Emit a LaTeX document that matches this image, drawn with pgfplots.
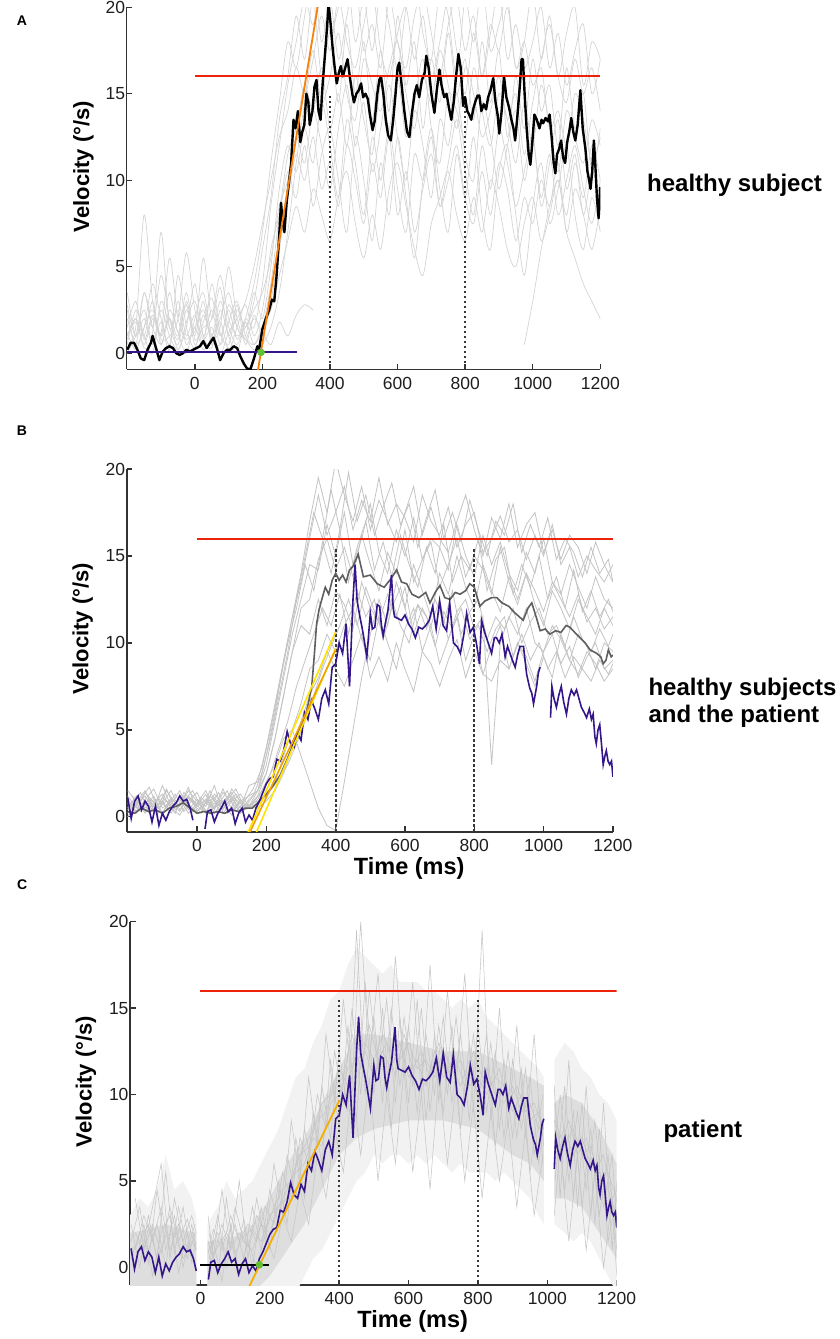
\documentclass[border=0pt]{standalone}
\usepackage{fontspec}
\setmainfont{Liberation Sans}
\usepackage{pgfplots}
\usepackage{pgfplotstable}
\pgfplotsset{compat=1.18}

\definecolor{purp}{RGB}{52,22,138}
\definecolor{redl}{RGB}{235,35,10}
\definecolor{orA}{RGB}{245,128,10}
\definecolor{yelB}{RGB}{255,226,0}
\definecolor{orB}{RGB}{240,160,0}
\definecolor{orC}{RGB}{245,175,0}
\definecolor{grn}{RGB}{100,190,50}
\definecolor{axc}{RGB}{50,50,50}
\definecolor{dotc}{RGB}{55,55,55}
\definecolor{tickc}{RGB}{30,30,30}
\definecolor{grayA}{RGB}{212,212,212}
\definecolor{grayB}{RGB}{195,195,195}
\definecolor{meanB}{RGB}{95,95,95}
\definecolor{grayC}{RGB}{198,198,198}
\definecolor{bandO}{RGB}{242,242,242}
\definecolor{bandI}{RGB}{222,222,222}

% ---------- panel A : trials of a healthy subject ----------
\pgfplotstableread{
t g1 g2 g3 g4 g5 g6 g7 g8
-200 1.5 0.5 2.5 1.0 0.0 0.8 1.2 3.5
-175 3.0 1.5 0.5 2.0 1.0 2.0 0.2 1.0
-150 0.8 8.0 3.5 0.3 2.5 1.0 1.5 2.0
-125 2.2 3.0 1.5 1.2 0.5 3.0 2.5 0.5
-100 1.0 1.0 4.5 7.0 1.8 0.5 0.8 2.5
-75 3.5 2.0 2.0 1.5 0.2 2.5 1.0 1.0
-50 1.2 0.2 0.8 2.5 4.5 1.2 2.0 0.2
-25 2.8 1.8 3.0 0.5 1.5 0.0 5.8 1.5
0 0.5 3.0 1.2 1.5 0.3 2.0 2.5 4.0
25 1.8 1.0 5.5 0.2 2.2 3.5 0.8 1.0
50 3.2 0.3 2.0 1.0 0.8 1.0 1.5 2.5
75 1.0 2.5 3.8 2.0 1.5 0.5 0.0 0.5
100 2.5 1.0 1.0 3.5 5.0 2.8 1.2 1.8
125 0.8 0.0 2.8 1.5 2.0 1.5 2.0 3.0
150 2.0 1.8 0.5 0.8 1.0 0.8 3.0 1.0
175 1.5 0.5 2.2 0.2 3.5 2.0 5.0 0.5
200 4.0 1.5 1.0 0.5 2.0 1.2 7.5 1.5
225 8.5 4.0 3.0 1.5 5.0 0.5 10.0 2.5
250 12.0 8.0 6.0 3.5 9.5 1.8 12.5 4.5
275 15.5 11.5 9.0 7.0 12.0 1.0 14.0 6.5
300 18.0 13.0 11.5 11.0 10.5 2.2 16.5 8.5
325 20.5 15.5 10.0 14.5 13.0 2.8 15.0 7.0
350 19.0 14.0 12.5 17.0 11.0 2.5 17.5 9.5
375 21.5 16.5 9.5 19.5 14.5 nan 14.5 8.0
400 18.5 13.0 11.0 17.5 12.0 nan 16.0 6.5
425 20.0 15.0 8.5 20.5 9.0 nan 18.5 9.0
450 22.0 12.0 12.0 18.0 13.5 nan 15.0 10.5
475 18.0 16.0 10.0 16.5 11.0 nan 13.5 7.5
500 20.5 13.5 7.5 19.0 8.0 nan 17.0 5.5
525 17.5 11.5 11.0 21.0 12.5 nan 15.5 8.0
550 21.0 15.5 9.0 17.5 10.0 nan 14.0 6.0
575 19.0 13.0 12.5 16.0 13.0 nan 16.5 9.5
600 16.5 16.0 8.0 18.5 9.5 nan 18.0 11.0
625 20.0 12.5 10.5 20.0 7.0 nan 15.0 8.5
650 22.0 14.5 7.0 17.0 11.5 nan 13.0 6.0
675 18.5 17.0 9.5 19.5 10.0 nan 16.0 4.5
700 17.0 13.0 11.5 16.0 12.5 nan 14.5 7.5
725 21.0 11.0 8.5 18.0 8.5 nan 17.5 9.0
750 19.5 15.0 10.0 20.5 11.0 nan 15.5 10.5
775 16.0 14.0 12.0 17.5 13.5 nan 13.0 8.0
800 20.5 12.5 9.0 15.0 10.5 nan 16.5 6.5
825 18.0 16.5 7.5 18.5 8.0 nan 15.0 9.0
850 21.5 14.0 10.5 16.0 12.0 nan 12.5 7.0
875 17.5 12.0 8.0 19.0 9.5 nan 14.0 10.0
900 19.0 15.0 11.0 17.5 13.0 nan 16.0 8.5
925 20.5 13.5 9.5 20.0 11.0 nan 13.5 6.0
950 16.5 11.0 6.5 16.5 8.5 nan 15.0 5.0
975 18.0 14.5 9.0 18.0 10.5 0.5 11.5 7.5
1000 21.0 12.0 7.5 15.5 12.5 3.0 14.5 9.0
1025 17.0 15.5 10.0 17.0 9.0 6.0 16.5 6.5
1050 19.5 13.0 8.5 19.0 11.5 8.5 13.0 8.0
1075 16.0 10.5 11.0 16.0 8.0 10.0 14.0 10.0
1100 18.5 14.0 7.0 14.5 10.0 8.0 12.0 7.0
1125 20.0 12.5 9.5 17.0 12.0 11.0 15.0 5.5
1150 15.5 11.0 8.0 15.0 9.5 9.0 13.5 4.0
1175 18.0 13.5 6.0 16.5 7.5 12.0 11.0 3.0
1200 17.0 12.0 8.5 14.0 10.0 10.0 12.5 2.0
}\tabA

\pgfplotstableread{
t g9 g10 g11 g12
-200 2.0 0.5 1.0 2.8
-175 0.5 2.5 1.8 1.0
-150 1.5 1.0 0.5 3.5
-125 4.0 0.0 2.0 1.5
-100 2.0 3.0 1.2 0.5
-75 0.5 1.5 5.5 2.0
-50 3.0 0.5 2.0 1.0
-25 1.0 2.5 0.8 3.5
0 2.2 1.0 1.5 0.8
25 0.5 3.0 2.5 1.5
50 4.0 0.5 1.0 2.0
75 1.2 1.8 3.0 4.5
100 0.5 0.2 1.5 2.0
125 2.5 1.5 0.5 1.0
150 1.5 2.8 2.0 1.5
175 3.0 1.0 4.0 2.5
200 6.0 2.5 7.0 3.5
225 9.0 6.0 11.0 5.5
250 13.5 8.0 14.5 8.5
275 16.0 10.5 18.0 10.0
300 19.5 9.0 16.5 12.5
325 17.0 12.0 19.5 11.0
350 20.5 8.5 22.0 14.0
375 16.0 11.5 18.0 12.0
400 18.5 13.0 20.5 9.5
425 14.5 10.0 17.0 13.0
450 19.0 7.0 19.5 15.5
475 15.0 12.5 21.5 12.0
500 18.0 10.0 17.5 14.5
525 13.5 6.5 19.0 10.5
550 17.5 11.0 16.5 13.0
575 14.0 8.0 20.5 15.5
600 19.5 12.5 18.0 12.5
625 15.5 9.0 16.5 10.0
650 18.0 5.5 19.5 14.0
675 13.0 10.0 21.0 12.0
700 17.0 13.0 18.5 9.0
725 14.5 9.5 16.0 13.5
750 18.5 7.0 19.0 12.0
775 15.0 11.5 20.5 15.0
800 17.0 9.0 17.5 11.5
825 13.5 12.5 19.5 10.0
850 18.0 8.0 16.0 14.5
875 14.5 6.0 18.5 12.5
900 17.5 10.5 21.0 9.5
925 12.5 12.0 17.0 12.0
950 16.0 8.0 19.0 14.0
975 13.0 4.5 16.5 10.0
1000 17.0 8.5 18.0 12.5
1025 14.0 11.0 20.0 8.5
1050 15.5 7.5 16.5 11.0
1075 12.0 9.5 18.5 13.5
1100 16.5 12.0 15.5 9.5
1125 13.0 8.0 17.5 11.5
1150 15.0 6.0 19.0 8.0
1175 10.5 9.0 15.0 10.5
1200 13.0 7.0 17.0 9.0
}\tabAx

\pgfplotstableread{
t v
-200 0.2
-190 0.6
-180 0.6
-170 0.2
-160 -0.3
-150 -0.4
-140 0.2
-130 0.6
-125 1.0
-115 0.3
-105 -0.4
-95 0.1
-85 0.3
-75 0.4
-65 0.3
-55 0.0
-45 -0.1
-35 0.0
-25 0.2
-15 0.1
-5 0.2
5 0.3
15 0.4
25 0.7
35 0.3
45 0.6
55 0.9
65 0.3
75 -0.4
85 0.0
95 0.2
105 0.2
115 0.4
125 0.3
135 -0.2
145 -0.6
155 -0.9
165 -0.9
175 -0.3
185 0.4
190 0.2
200 1.4
210 2.0
220 2.5
228 3.1
235 3.0
242 4.5
250 6.9
255 8.7
260 7.6
265 7.0
272 8.8
278 9.8
285 11.0
292 13.5
298 13.0
305 14.0
312 12.2
318 12.8
324 13.2
330 15.0
336 14.5
340 13.2
348 14.0
354 15.4
360 15.8
366 14.0
372 13.5
378 15.5
384 17.0
390 18.5
396 20.2
402 19.0
408 17.6
414 16.5
420 15.6
426 16.2
432 16.6
438 16.0
445 16.5
452 17.0
460 15.8
466 15.0
471 14.5
478 15.0
485 15.2
492 15.6
498 14.8
505 15.0
512 14.7
518 13.8
526 12.9
532 13.4
540 15.0
546 15.8
551 16.0
558 15.0
565 13.5
572 12.6
580 12.3
587 13.5
594 15.0
600 16.5
605 16.8
612 15.5
620 14.0
628 12.8
635 12.5
642 13.8
650 15.0
657 15.5
664 14.8
672 15.8
680 16.2
685 17.2
692 16.5
700 15.0
709 13.9
716 15.2
724 16.4
730 15.5
738 14.8
745 15.0
752 14.2
759 13.5
766 14.5
773 16.0
780 17.3
787 16.5
794 14.3
800 14.8
806 14.0
812 13.8
818 13.5
825 14.2
831 14.6
837 14.9
842 14.9
848 14.0
855 14.4
862 14.1
868 14.8
875 15.2
883 15.9
890 14.5
896 13.8
901 12.7
908 14.0
915 16.0
922 14.8
930 14.2
937 13.5
943 13.0
948 12.3
955 13.8
962 15.5
967 17.0
971 17.0
976 15.0
982 13.0
988 11.5
993 10.9
998 12.0
1005 13.8
1012 13.5
1020 13.0
1026 13.5
1031 13.3
1038 13.6
1045 13.4
1050 13.8
1056 12.5
1062 11.0
1067 10.4
1072 11.5
1078 11.8
1084 12.3
1090 11.3
1096 11.0
1102 12.2
1108 12.8
1114 13.6
1120 12.8
1126 12.3
1133 13.2
1141 15.2
1148 13.0
1156 11.8
1162 10.5
1167 10.0
1171 9.5
1176 10.5
1181 12.3
1185 11.0
1190 9.0
1195 7.8
1200 9.6
}\blackA

% ---------- panel B : healthy subjects (means) ----------
\pgfplotstableread{
t b1 b2 b3 b4 b5 b6 b7 b8
-200 0.5 0.2 1.0 0.8 0.0 1.2 0.4 1.5
-175 1.2 0.8 0.3 0.2 0.7 0.5 1.0 0.9
-150 0.3 1.5 1.4 1.0 1.2 0.9 0.2 0.5
-125 1.0 0.4 0.8 1.6 0.4 0.3 0.8 1.2
-100 0.8 0.9 0.2 0.5 1.8 1.1 1.3 0.2
-75 1.5 0.2 1.1 0.9 0.6 0.7 0.5 1.0
-50 0.4 1.2 0.6 0.3 1.0 1.5 0.1 0.6
-25 1.1 0.7 1.5 1.2 0.2 0.4 0.9 1.7
0 0.6 0.3 0.9 0.6 0.8 1.0 1.4 0.3
25 1.3 1.0 0.2 1.0 1.5 0.6 0.3 0.8
50 0.2 0.5 1.3 0.4 0.5 1.8 0.8 1.1
75 0.9 1.6 0.7 1.4 0.9 0.2 0.5 0.4
100 1.4 0.4 0.1 0.8 1.2 0.9 1.1 1.6
125 0.5 0.8 1.0 0.3 0.3 1.3 0.2 0.9
150 1.8 0.6 0.5 0.5 1.0 0.6 0.7 1.2
175 2.0 1.5 0.8 1.0 1.5 1.2 0.5 1.5
200 4.0 2.5 1.2 2.0 3.5 2.5 0.9 3.0
225 6.5 4.5 2.0 3.0 6.0 4.5 1.5 5.5
250 9.0 7.0 3.5 4.5 9.0 7.0 2.5 8.0
275 11.5 9.5 5.0 5.0 11.5 9.5 4.0 10.5
300 13.5 12.0 6.5 3.5 14.0 11.0 5.5 12.5
325 16.0 12.5 8.5 2.0 17.0 10.5 7.0 14.5
350 18.5 14.8 9.0 0.5 19.5 12.5 8.0 14.2
375 16.2 16.0 10.5 -0.5 17.5 11.0 9.5 16.8
400 17.5 14.2 9.5 -0.8 20.5 13.0 8.5 15.0
425 19.0 15.5 11.0 2.0 18.5 12.2 7.5 17.5
450 16.5 13.8 12.0 5.0 17.0 10.8 9.0 14.5
475 18.2 16.2 10.2 8.0 19.0 13.5 10.5 16.0
500 17.0 14.5 9.0 10.5 16.5 12.0 8.0 18.0
525 19.5 13.0 11.5 12.5 18.2 11.2 9.2 15.2
550 16.8 15.2 10.0 11.0 17.0 12.8 7.8 14.0
575 18.0 14.0 8.5 13.5 15.8 11.5 10.0 16.5
600 17.2 16.5 10.8 12.0 17.5 13.2 8.5 15.0
625 15.8 13.5 12.0 14.5 19.0 10.5 7.2 17.2
650 18.5 14.8 9.5 13.0 16.2 12.0 9.5 14.8
675 17.0 15.8 11.0 11.5 17.8 11.0 8.8 16.0
700 16.2 13.2 8.8 14.0 16.0 12.5 7.5 15.5
725 17.8 14.5 10.2 12.8 15.2 10.2 9.0 14.2
750 15.5 16.0 11.5 15.0 17.0 11.8 10.2 16.8
775 16.8 13.8 9.0 13.2 18.5 12.5 8.0 15.0
800 17.5 15.0 10.5 12.0 16.5 10.8 9.5 13.8
825 15.2 14.2 8.2 14.5 15.0 11.5 8.2 16.2
850 16.0 12.8 9.8 13.0 17.2 3.0 7.8 14.5
875 17.3 15.5 11.0 11.8 16.0 10.0 9.0 15.8
900 15.8 13.5 8.5 13.8 18.0 11.5 8.5 14.0
925 16.5 12.2 10.0 12.5 15.5 10.5 10.0 13.0
950 14.8 14.0 9.2 14.0 16.8 12.0 8.8 15.2
975 16.2 13.0 7.8 12.2 17.5 10.0 7.5 14.0
1000 15.0 11.8 9.5 11.0 15.2 9.5 9.2 16.0
1025 16.8 13.5 10.5 13.0 16.5 11.0 8.0 13.5
1050 14.5 12.5 8.8 12.0 14.8 10.2 10.5 12.8
1075 15.5 11.5 9.8 10.8 16.2 9.0 9.0 14.5
1100 13.8 12.8 8.0 12.5 15.5 10.5 8.2 13.2
1125 15.0 11.2 9.2 11.5 14.0 9.8 9.5 12.0
1150 14.2 12.0 10.0 10.5 15.8 8.5 8.8 13.8
1175 13.5 10.8 8.5 12.0 14.5 10.0 7.8 12.5
1200 14.5 11.5 9.0 11.0 13.5 9.5 8.5 12.0
}\tabB

\pgfplotstableread{
t b9 b10 b11 b12
-188 0.6 1.2 0.3 0.9
-163 1.4 0.4 1.0 0.3
-138 0.2 1.0 1.7 1.1
-113 1.1 0.2 0.5 0.6
-88 0.5 1.5 0.9 1.6
-63 1.3 0.8 0.2 0.4
-38 0.3 1.2 1.4 0.9
-13 1.0 0.3 0.8 1.5
12 0.4 1.1 0.2 0.6
37 1.2 0.6 1.5 0.2
62 0.7 1.4 0.4 1.0
87 1.5 0.2 1.0 0.7
112 0.3 1.0 1.6 1.3
137 0.9 0.6 0.5 0.4
162 1.6 0.8 1.2 0.8
187 2.8 1.5 2.5 1.0
212 5.0 2.5 4.5 1.5
237 7.5 4.0 7.0 2.2
262 10.0 5.5 9.5 3.0
287 12.0 7.5 12.5 4.2
312 14.5 9.0 15.0 5.5
337 13.0 10.5 17.5 7.0
362 15.8 12.0 16.0 8.5
387 14.0 11.0 18.8 9.8
412 16.5 12.8 16.5 11.0
437 13.5 10.5 19.8 12.5
462 15.5 13.0 17.0 11.0
487 17.0 11.5 18.5 13.2
512 14.2 12.5 16.2 11.8
537 15.8 10.2 17.8 10.5
562 13.8 12.0 19.2 12.5
587 16.2 13.2 16.8 11.0
612 14.5 11.0 18.0 10.0
637 13.2 12.2 15.5 12.2
662 15.5 10.8 17.2 11.5
687 14.0 12.5 18.8 9.8
712 16.8 11.2 16.0 11.8
737 13.5 13.0 17.5 10.8
762 15.0 10.5 15.8 12.0
787 14.2 11.8 18.2 10.2
812 16.0 12.5 16.5 11.0
837 13.0 10.2 15.0 9.5
862 14.8 11.5 17.0 10.8
887 15.5 10.8 16.2 11.5
912 12.8 12.0 18.0 9.2
937 14.5 10.0 15.2 10.5
962 13.2 11.2 16.8 9.0
987 15.0 12.0 15.5 10.0
1012 12.5 10.5 17.2 8.5
1037 13.8 11.0 14.8 9.5
1062 12.0 9.8 16.0 8.0
1087 14.2 11.5 15.2 9.2
1112 11.8 10.2 13.8 8.5
1137 13.0 9.5 15.5 7.8
1162 11.5 10.8 14.0 9.0
1187 12.5 9.8 14.8 8.2
1200 11.8 10.5 13.5 8.8
}\tabBx

\pgfplotstableread{
t v
-200 0.3
-180 0.2
-160 0.5
-140 0.3
-120 0.4
-100 0.2
-80 0.5
-60 0.6
-40 0.8
-20 0.5
0 0.2
20 0.3
40 0.2
60 0.3
80 0.2
100 0.4
120 0.3
140 0.5
160 0.5
180 0.9
200 1.3
220 1.8
240 2.4
260 3.3
280 4.3
300 5.2
315 6.0
322 6.6
331 7.5
338 9.2
345 11.1
352 11.9
360 12.5
370 13.2
380 12.8
390 13.6
400 14.0
410 13.6
420 13.9
430 13.5
440 14.2
450 14.4
465 15.1
480 13.8
500 13.9
520 13.4
540 13.2
560 13.7
576 14.2
590 13.5
605 13.4
620 12.8
640 12.6
660 12.9
672 12.3
690 13.0
701 13.3
715 12.6
730 12.5
745 12.9
759 12.8
775 13.0
787 13.4
800 13.2
816 12.1
830 12.4
850 12.6
865 12.6
880 12.3
900 12.1
913 11.8
930 11.5
941 11.3
955 12.0
966 12.3
980 11.4
990 10.7
1005 10.8
1018 10.5
1035 10.7
1050 10.6
1065 11.0
1076 10.9
1090 10.6
1105 10.3
1120 10.0
1134 9.6
1153 9.4
1165 9.2
1172 8.8
1180 9.0
1187 9.6
1195 9.2
1200 9.3
}\meanB

% ---------- patient mean (panels B and C) ----------
\pgfplotstableread{
t v
-200 1.1
-190 -0.1
-180 0.9
-170 1.2
-160 0.4
-150 0.9
-140 0.6
-130 -0.3
-120 0.6
-110 -0.5
-100 0.2
-90 -0.2
-80 0.3
-70 0.6
-60 0.8
-50 1.2
-40 0.9
-30 1.0
-20 0.5
-12 -0.2
0 nan
23 -0.7
30 0.3
40 0.4
50 -0.3
60 0.2
70 0.5
80 0.9
90 0.3
100 0.5
110 -0.4
120 0.2
130 0.5
140 -0.3
150 0.1
160 -0.2
170 0.5
180 0.9
190 1.4
200 1.9
210 2.2
220 2.3
230 3.3
240 3.2
250 3.8
260 4.9
270 4.2
280 4.0
290 4.8
300 4.4
310 6.0
320 5.6
330 6.7
340 6.2
350 5.6
360 6.8
370 7.3
380 6.5
390 8.6
400 8.8
410 10.0
420 9.4
430 11.1
440 7.5
450 12.5
456 14.5
462 12.4
470 11.5
476 10.9
482 10.2
490 9.2
500 11.7
506 10.8
513 10.9
520 12.2
527 12.1
532 11.0
537 10.4
544 11.2
551 11.9
561 13.9
566 12.0
570 11.5
580 11.4
590 11.3
600 11.6
610 11.1
620 10.8
630 10.3
640 10.9
650 10.8
660 11.0
670 11.3
680 12.1
690 10.8
700 12.4
710 11.0
720 10.7
729 12.3
740 10.0
750 9.8
760 9.4
770 10.5
778 11.7
788 10.6
797 10.9
806 10.0
815 8.8
821 11.3
830 10.6
840 10.0
850 9.4
858 10.3
864 10.3
872 10.0
880 10.5
889 9.2
896 9.8
903 9.4
910 9.0
918 8.6
925 9.3
932 9.8
942 9.8
951 8.2
960 7.4
966 7.1
971 6.5
980 7.5
985 8.3
990 8.6
1000 nan
1020 5.7
1024 7.5
1030 6.8
1037 6.3
1044 7.0
1051 7.5
1058 6.6
1066 5.9
1073 6.8
1080 7.3
1088 7.0
1095 7.3
1102 6.8
1109 6.3
1117 6.0
1124 5.7
1132 6.2
1138 5.6
1143 5.9
1148 4.6
1152 4.2
1157 5.0
1162 5.3
1167 4.2
1172 3.0
1177 3.5
1181 3.8
1186 3.2
1191 3.0
1196 3.2
1200 2.3
}\patient

% ---------- panel C : patient trials ----------
\pgfplotstableread{
t c1 c2 c3 c4
-200 1.5 2.5 0.5 1.0
-175 3.5 0.0 2.0 1.5
-150 0.2 3.0 1.0 2.5
-125 4.5 0.5 2.5 0.5
-100 1.0 5.5 0.0 1.8
-75 3.0 0.8 4.0 2.0
-50 0.0 3.5 1.5 0.5
-25 2.5 0.3 3.0 1.5
-12 1.0 1.5 2.0 1.0
0 nan nan nan nan
25 0.5 2.0 1.0 0.2
50 3.0 -0.5 2.0 1.2
75 0.0 4.0 0.8 2.0
100 2.5 0.3 3.5 0.8
125 0.5 2.8 1.5 1.8
150 3.5 0.0 1.0 2.2
175 1.0 3.5 2.5 1.5
200 4.5 1.0 2.0 3.0
225 2.5 5.0 3.5 3.5
250 6.5 2.5 4.5 4.0
275 4.0 7.5 5.5 6.0
300 8.0 4.0 6.0 7.0
325 5.5 9.0 7.5 8.0
350 10.5 6.0 7.0 9.5
375 7.5 12.0 9.5 10.0
400 12.5 8.0 10.0 11.5
425 9.0 14.0 11.5 10.5
450 19.5 8.5 12.0 12.5
475 10.0 16.5 12.5 13.0
500 14.5 10.0 11.0 12.0
525 9.5 15.0 12.5 13.5
550 15.0 8.0 11.5 12.5
575 10.5 14.5 13.0 12.0
600 14.0 9.5 11.0 13.0
625 9.0 15.5 12.0 11.5
650 13.5 8.5 10.5 12.0
675 10.0 13.5 12.5 11.0
700 14.5 9.0 11.0 12.5
725 9.5 14.0 11.5 11.5
750 13.5 8.0 10.5 12.0
775 8.5 13.0 12.0 10.5
800 14.0 9.5 10.0 11.0
825 9.0 13.5 11.5 10.0
850 12.5 7.0 10.0 11.0
875 7.5 12.0 9.5 10.5
900 12.0 7.5 10.5 9.0
925 8.0 11.5 9.0 10.0
950 11.0 5.5 9.5 8.5
975 6.0 9.5 8.0 9.0
990 8.5 7.0 8.5 8.0
1000 nan nan nan nan
1022 9.5 5.0 7.0 8.5
1050 4.5 10.5 8.0 7.0
1075 9.0 4.0 6.5 8.0
1100 3.5 9.5 7.5 6.5
1125 8.0 3.0 6.0 7.0
1150 3.0 8.0 5.5 5.0
1175 6.5 1.5 4.5 5.5
1200 1.0 4.0 3.0 4.0
}\tabC

\pgfplotstableread{
t c5 c6 c7 c8
-188 4.0 0.0 2.0 1.0
-163 1.0 2.5 1.0 3.0
-138 3.5 -0.5 2.5 1.5
-113 6.0 2.0 0.8 3.5
-88 0.5 3.0 3.5 1.0
-63 3.5 -0.3 1.5 2.5
-38 1.0 2.0 2.8 0.5
-15 2.5 0.0 1.2 2.0
0 nan nan nan nan
22 3.0 -0.5 1.5 0.8
37 0.5 1.5 0.5 2.2
62 4.5 -0.8 2.5 1.0
87 1.0 2.5 1.0 3.0
112 5.0 -0.5 2.0 1.5
137 0.5 1.5 1.2 2.5
162 4.0 0.0 3.0 1.5
187 1.5 2.0 2.0 3.5
212 6.0 0.5 3.5 2.5
237 3.0 3.0 4.5 5.5
262 8.5 1.5 5.0 4.0
287 5.0 4.5 6.5 7.5
312 11.0 2.5 7.0 6.0
337 7.0 6.5 8.5 10.0
362 13.5 4.0 9.0 8.0
387 9.5 8.0 10.5 12.5
412 15.5 5.5 11.0 9.5
437 10.5 10.5 13.5 15.0
462 20.0 6.5 11.5 10.0
487 12.0 11.0 14.0 16.0
512 17.0 5.0 12.0 11.5
537 10.0 10.0 13.0 15.5
562 18.0 6.0 11.0 9.5
587 11.0 11.5 13.5 14.5
612 16.5 5.5 11.5 10.5
637 10.0 10.0 12.5 15.0
662 17.5 4.5 11.0 9.0
687 9.5 11.0 13.0 14.0
712 16.0 6.0 11.5 10.0
737 10.5 10.5 12.0 14.5
762 17.0 5.0 10.5 9.5
787 9.0 9.5 12.5 13.5
812 19.5 4.0 11.0 9.0
837 8.5 9.0 10.5 13.0
862 15.0 5.0 11.5 8.0
887 8.0 8.5 9.5 12.5
912 14.0 3.5 10.5 7.5
937 7.5 8.0 9.0 11.5
962 13.5 3.0 9.5 6.5
987 6.0 6.5 8.0 10.0
1000 nan nan nan nan
1020 10.5 3.0 8.5 6.5
1037 4.0 7.0 7.0 10.0
1062 12.0 1.5 8.5 5.0
1087 3.5 6.5 6.5 9.0
1112 10.5 1.0 7.5 4.5
1137 2.5 5.5 5.5 8.5
1162 9.5 0.0 6.5 3.5
1187 1.0 4.0 4.0 6.5
1200 5.0 -0.5 4.5 2.5
}\tabCx

\pgfplotstableread{
t v
-203 -1.5
-203 3.0
-175 4.0
-150 3.5
-125 4.5
-100 6.5
-75 4.5
-50 5.0
-25 4.0
-12 3.0
-12 -1.5
}\outerCa
\pgfplotstableread{
t v
20 -1.5
20 2.5
50 3.5
75 5.0
100 4.0
125 4.5
150 5.0
175 6.0
200 7.0
225 8.0
250 9.5
275 11.0
300 11.5
325 13.0
350 14.0
375 15.5
400 16.0
425 17.5
450 18.5
475 18.0
500 17.5
525 17.0
550 17.5
575 16.5
600 16.5
625 16.5
650 16.0
675 16.0
700 15.5
725 15.0
750 15.5
775 15.0
800 15.5
825 14.5
850 14.0
875 13.5
900 13.0
925 12.5
950 12.0
975 11.5
990 11.0
990 2.5
975 3.0
950 4.0
925 4.5
900 5.0
875 5.5
850 5.0
825 5.5
800 5.5
775 5.5
750 6.0
725 5.5
700 6.0
675 6.5
650 6.0
625 6.5
600 6.0
575 6.5
550 6.5
525 6.0
500 6.5
475 5.5
450 5.0
425 4.0
400 3.0
375 2.0
350 1.0
325 0.5
300 -0.5
275 -1.5
}\outerCb
\pgfplotstableread{
t v
1020 2.5
1020 12.0
1050 13.0
1075 12.5
1100 11.5
1125 11.0
1150 10.0
1175 9.5
1200 8.5
1200 -1.5
1175 -0.5
1150 0.5
1125 1.5
1100 2.0
1075 1.5
1050 2.0
}\outerCc
\pgfplotstableread{
t v
-203 -1.5
-203 2.0
-150 2.2
-100 2.5
-50 2.2
-12 2.0
-12 -1.5
}\innerCa
\pgfplotstableread{
t v
20 -1.5
20 1.5
100 1.8
150 2.5
200 4.0
250 6.0
300 7.5
350 9.5
400 11.5
450 13.5
500 13.5
600 13.0
700 12.5
800 12.5
900 11.5
950 11.0
990 10.5
990 5.0
950 6.0
900 6.5
800 8.0
700 8.5
600 8.5
500 8.0
450 7.5
400 6.5
350 4.5
300 2.5
250 1.0
200 -0.5
150 -1.5
}\innerCb
\pgfplotstableread{
t v
1020 4.0
1020 9.5
1050 10.0
1100 9.5
1150 8.0
1200 6.0
1200 0.5
1150 2.0
1100 3.5
1050 4.0
}\innerCc

\pgfplotsset{
  panel/.style={
    scale only axis,
    axis x line=bottom, axis y line=left,
    axis line style={-, line width=1.6pt, draw=axc},
    tick style={line width=1.4pt, draw=axc},
    tick align=inside,
    major tick length=5.5pt,
    xtick={0,200,400,600,800,1000,1200},
    ytick={0,5,10,15,20},
    ticklabel style={font=\fontsize{17.5}{17.5}\selectfont, text=tickc},
    xticklabel style={yshift=-4pt},
    yticklabel style={xshift=2pt},
    /pgf/number format/assume math mode=true,
    /pgf/number format/1000 sep={},
    unbounded coords=jump,
    ylabel={Velocity (°/s)},
    ylabel style={font=\fontsize{22}{22}\selectfont\bfseries, at={(axis description cs:-0.062,0.56)}, anchor=south},
    xlabel style={font=\fontsize{23.5}{23.5}\selectfont\bfseries, at={(axis description cs:0.581,0)}, anchor=north, yshift=-22pt},
  },
  dotl/.style={color=dotc, line width=2.2pt, dash pattern=on 2.2pt off 2.8pt},
  gA/.style={color=grayA, line width=0.7pt, smooth},
  gB/.style={color=grayB, line width=0.8pt},
  gC/.style={color=grayC, line width=0.55pt},
}

\begin{document}
\begin{tikzpicture}
\path[use as bounding box] (0pt,0pt) rectangle (839pt,-1339pt);

\node[anchor=base west, inner sep=0pt, font=\fontsize{14}{14}\selectfont\bfseries] at (16.7pt,-25pt) {A};
\node[anchor=base west, inner sep=0pt, font=\fontsize{14}{14}\selectfont\bfseries] at (16.7pt,-435pt) {B};
\node[anchor=base west, inner sep=0pt, font=\fontsize{14}{14}\selectfont\bfseries] at (17pt,-889.5pt) {C};

\node[anchor=base west, inner sep=0pt, font=\fontsize{24}{24}\selectfont\bfseries] at (647pt,-191.7pt) {healthy subject};
\node[anchor=base west, inner sep=0pt, font=\fontsize{24}{24}\selectfont\bfseries] at (648.3pt,-695pt) {healthy subjects};
\node[anchor=base west, inner sep=0pt, font=\fontsize{24}{24}\selectfont\bfseries] at (648.3pt,-722.3pt) {and the patient};
\node[anchor=base west, inner sep=0pt, font=\fontsize{24}{24}\selectfont\bfseries] at (663.3pt,-1137.3pt) {patient};

% ================= A =================
\begin{axis}[panel, at={(126.6pt,-369.3pt)}, anchor=south west,
  width=473.7pt, height=362pt, xmin=-202, xmax=1200, ymin=-0.93, ymax=20]
\addplot[gA] table[x=t,y=g1] {\tabA};
\addplot[gA] table[x=t,y=g2] {\tabA};
\addplot[gA] table[x=t,y=g3] {\tabA};
\addplot[gA] table[x=t,y=g4] {\tabA};
\addplot[gA] table[x=t,y=g5] {\tabA};
\addplot[gA] table[x=t,y=g6] {\tabA};
\addplot[gA] table[x=t,y=g7] {\tabA};
\addplot[gA] table[x=t,y=g8] {\tabA};
\addplot[gA] table[x=t,y=g9] {\tabAx};
\addplot[gA] table[x=t,y=g10] {\tabAx};
\addplot[gA] table[x=t,y=g11] {\tabAx};
\addplot[gA] table[x=t,y=g12] {\tabAx};
\addplot[dotl] coordinates {(400,-2) (400,15)};
\addplot[dotl] coordinates {(800,-2) (800,15)};
\addplot[black, line width=2.4pt, line join=round] table[x=t,y=v] {\blackA};
\addplot[purp, line width=2pt] coordinates {(-205,0.05) (301,0.05)};
\addplot[redl, line width=2pt] coordinates {(0,16) (1200,16)};
\addplot[orA, line width=1.8pt] coordinates {(180,-1.79) (370,20.8)};
\addplot[only marks, mark=*, mark size=3.5pt, color=grn] coordinates {(196,0.05)};
\end{axis}

% ================= B =================
\begin{axis}[panel, at={(126.7pt,-831.7pt)}, anchor=south west,
  width=486.2pt, height=362.7pt, xmin=-203, xmax=1200, ymin=-0.86, ymax=20,
  xlabel={Time (ms)}]
\addplot[gB] table[x=t,y=b1] {\tabB};
\addplot[gB] table[x=t,y=b2] {\tabB};
\addplot[gB] table[x=t,y=b3] {\tabB};
\addplot[gB] table[x=t,y=b4] {\tabB};
\addplot[gB] table[x=t,y=b5] {\tabB};
\addplot[gB] table[x=t,y=b6] {\tabB};
\addplot[gB] table[x=t,y=b7] {\tabB};
\addplot[gB] table[x=t,y=b8] {\tabB};
\addplot[gB] table[x=t,y=b9] {\tabBx};
\addplot[gB] table[x=t,y=b10] {\tabBx};
\addplot[gB] table[x=t,y=b11] {\tabBx};
\addplot[gB] table[x=t,y=b12] {\tabBx};
\addplot[dotl] coordinates {(400,-2) (400,15.5)};
\addplot[dotl] coordinates {(800,-2) (800,15.5)};
\addplot[meanB, line width=1.6pt] table[x=t,y=v] {\meanB};
\addplot[purp, line width=1.6pt] table[x=t,y=v] {\patient};
\addplot[redl, line width=2pt] coordinates {(0,16) (1200,16)};
\addplot[yelB, line width=1.6pt] coordinates {(145,-1.0) (400,10.64)};
\addplot[yelB, line width=1.6pt] coordinates {(169,-1.0) (400,9.69)};
\addplot[orB, line width=1.6pt] coordinates {(150,-1.0) (400,9.6)};
\end{axis}

% ================= C =================
\begin{axis}[panel, at={(130pt,-1285pt)}, anchor=south west,
  width=486.7pt, height=363.3pt, xmin=-203, xmax=1200, ymin=-1.02, ymax=20,
  xlabel={Time (ms)}]
\addplot[fill=bandO, draw=none] table[x=t,y=v] {\outerCa};
\addplot[fill=bandO, draw=none] table[x=t,y=v] {\outerCb};
\addplot[fill=bandO, draw=none] table[x=t,y=v] {\outerCc};
\addplot[fill=bandI, draw=none] table[x=t,y=v] {\innerCa};
\addplot[fill=bandI, draw=none] table[x=t,y=v] {\innerCb};
\addplot[fill=bandI, draw=none] table[x=t,y=v] {\innerCc};
\addplot[gC] table[x=t,y=c1] {\tabC};
\addplot[gC] table[x=t,y=c2] {\tabC};
\addplot[gC] table[x=t,y=c3] {\tabC};
\addplot[gC] table[x=t,y=c4] {\tabC};
\addplot[gC] table[x=t,y=c5] {\tabCx};
\addplot[gC] table[x=t,y=c6] {\tabCx};
\addplot[gC] table[x=t,y=c7] {\tabCx};
\addplot[gC] table[x=t,y=c8] {\tabCx};
\addplot[dotl] coordinates {(400,-2) (400,15.5)};
\addplot[dotl] coordinates {(800,-2) (800,15.5)};
\addplot[purp, line width=1.6pt] table[x=t,y=v] {\patient};
\addplot[redl, line width=2pt] coordinates {(0,16) (1200,16)};
\addplot[black, line width=2pt] coordinates {(0,0.15) (199,0.15)};
\addplot[orC, line width=1.8pt] coordinates {(140,-1.14) (401,9.68)};
\addplot[only marks, mark=*, mark size=3.5pt, color=grn] coordinates {(170,0.15)};
\end{axis}
\end{tikzpicture}
\end{document}
